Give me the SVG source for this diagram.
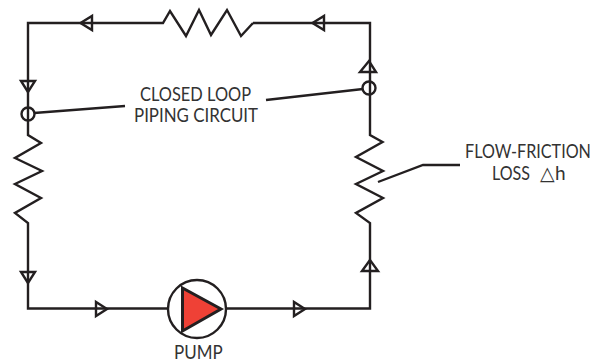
<svg xmlns="http://www.w3.org/2000/svg" width="592" height="362" viewBox="0 0 592 362">
<style>
.p{fill:none;stroke:#231f20;stroke-width:2.4;stroke-linejoin:miter}
.a{fill:none;stroke:#231f20;stroke-width:2.4}
.t{font-family:"Lato","Noto Sans",sans-serif;font-size:19.5px;fill:#333}
.s{font-size:19px}
</style>
<rect width="592" height="362" fill="#fff"/>
<g id="connectors">
<path class="p" d="M253 23L370 23L370 135L382.500 142L356 157L383 171L356 184L383 198L356 213L370 223L370 308.500L226 308.500"/>
<path class="p" d="M253 23L241 36L227 10L211 35L199 10L186 36L170 11L163 23L28 23L28 135L41 143L15 158L42 171L15 184L41 198L15 213L28 223L28 308.500L168 308.500"/>
<path class="p" d="M34 113L125 106"/>
<path class="p" d="M363 89L266 100"/>
<path class="p" d="M460 165L423 165L378 182"/>
<path class="a" d="M80.500 23L92 16V30Z"/>
<path class="a" d="M312.500 23L324 16V30Z"/>
<path class="a" d="M28 92L21 81H35Z"/>
<path class="a" d="M28 283L21 272H35Z"/>
<path class="a" d="M107 309L96 302V316Z"/>
<path class="a" d="M305 309L294 302V316Z"/>
<path class="a" d="M369 61L360 72H376Z"/>
<path class="a" d="M370 260L362 271H378Z"/>
</g>
<g id="junction-left"><circle class="a" cx="28" cy="114" r="6.500"/></g>
<g id="junction-right"><circle class="a" cx="369" cy="88" r="6.500"/></g>
<g id="pump">
<circle cx="197" cy="309" r="29" fill="#fff" stroke="#231f20" stroke-width="2.400"/>
<path d="M182.500 288L182.500 331L221 309Z" fill="#ef4136" stroke="#231f20" stroke-width="3"/>
<text class="t" transform="translate(174 358.500) scale(.87 1)">PUMP</text>
</g>
<g id="label-circuit">
<text class="t" x="140" y="100.500" textLength="111" lengthAdjust="spacingAndGlyphs">CLOSED LOOP</text>
<text class="t" x="134" y="121.500" textLength="124" lengthAdjust="spacingAndGlyphs">PIPING CIRCUIT</text>
</g>
<g id="label-friction">
<text class="t s" transform="translate(465 157.500) scale(.85 1)">FLOW-FRICTION</text>
<text class="t s" x="492" y="179.500" textLength="38" lengthAdjust="spacingAndGlyphs">LOSS</text>
<text class="t s" x="540" y="179.500" style="font-family:'DejaVu Sans',sans-serif">△</text>
<text class="t s" x="555" y="179.500">h</text>
</g>
</svg>
